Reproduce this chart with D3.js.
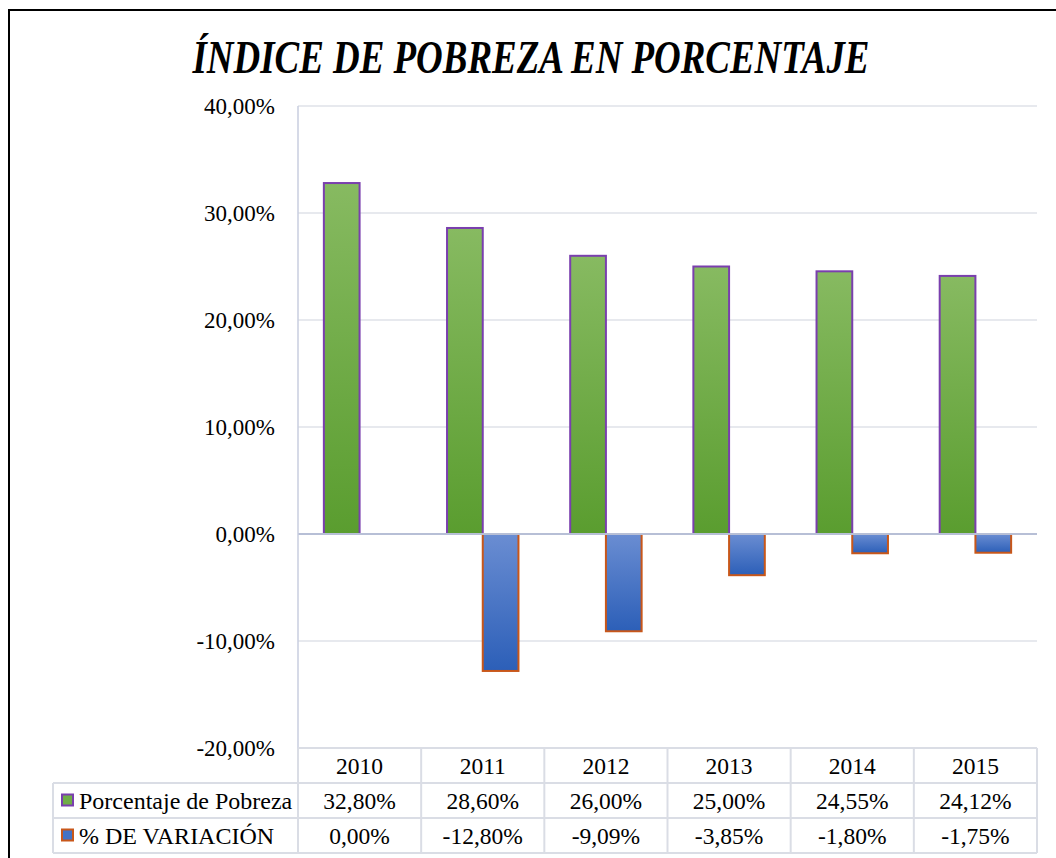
<!DOCTYPE html>
<html>
<head>
<meta charset="utf-8">
<script src="https://cdn.jsdelivr.net/npm/d3@7"></script>
<style>
  body { margin: 0; background: #fff; }
</style>
</head>
<body>
<div id="chart"></div>
<script>
// chart data
const years = ['2010', '2011', '2012', '2013', '2014', '2015'];
const pobreza = [32.80, 28.60, 26.00, 25.00, 24.55, 24.12];
const variacion = [0.00, -12.80, -9.09, -3.85, -1.80, -1.75];
const seriesNames = ['Porcentaje de Pobreza', '% DE VARIACIÓN'];
const yTicks = [-20, -10, 0, 10, 20, 30, 40];

const W = 1056;
const H = 858;
const plot = { left: 298, right: 1037, top: 106, bottom: 748 };
const rowH = 35;
const serif = '"Liberation Serif"';
const txtSize = 23.5;

const fmt = v => v.toFixed(2).replace('.', ',') + '%';

const svg = d3.select('#chart')
  .append('svg')
  .attr('width', W)
  .attr('height', H);

// gradients for the bars
const defs = svg.append('defs');
const grads = [
  { id: 'gGreen', top: '#87ba61', bottom: '#5a9d2f' },
  { id: 'gBlue', top: '#6a8dd2', bottom: '#2c5fb8' }
];
grads.forEach(g => {
  const lg = defs.append('linearGradient')
    .attr('id', g.id)
    .attr('x1', 0).attr('y1', 0).attr('x2', 0).attr('y2', 1);
  lg.append('stop').attr('offset', '0%').attr('stop-color', g.top);
  lg.append('stop').attr('offset', '100%').attr('stop-color', g.bottom);
});

// outer border of the chart (runs off the right and bottom)
svg.append('rect')
  .attr('x', 9).attr('y', 10)
  .attr('width', 1100).attr('height', 900)
  .attr('fill', 'none')
  .attr('stroke', '#000')
  .attr('stroke-width', 2);

// title
svg.append('text')
  .attr('x', 531)
  .attr('y', 73)
  .attr('text-anchor', 'middle')
  .style('font-family', serif)
  .attr('font-size', 46)
  .attr('font-weight', 'bold')
  .attr('font-style', 'italic')
  .attr('textLength', 677)
  .attr('lengthAdjust', 'spacingAndGlyphs')
  .text('ÍNDICE DE POBREZA EN PORCENTAJE');

// scales
const y = d3.scaleLinear()
  .domain([-20, 40])
  .range([plot.bottom, plot.top]);

const x = d3.scaleBand()
  .domain(years)
  .range([plot.left, plot.right])
  .paddingInner(0.42)
  .paddingOuter(0.21);

const col = d3.scaleBand()
  .domain(years)
  .range([plot.left, plot.right]);

const x1 = d3.scaleBand()
  .domain([0, 1])
  .range([0, x.bandwidth()]);

// gridlines
svg.append('g')
  .selectAll('line')
  .data(yTicks.filter(t => t !== 0))
  .join('line')
  .attr('x1', plot.left)
  .attr('x2', plot.right)
  .attr('y1', d => y(d))
  .attr('y2', d => y(d))
  .attr('stroke', '#dfe2e9')
  .attr('stroke-width', 1.5);

// y labels
const yAxis = svg.append('g')
  .attr('transform', `translate(${plot.left - 23},0)`)
  .call(d3.axisLeft(y).tickValues(yTicks).tickSize(0).tickPadding(0).tickFormat(fmt));
yAxis.select('.domain').remove();
yAxis.selectAll('text')
  .style('font-family', serif)
  .attr('font-size', 23)
  .attr('fill', '#000')
  .attr('dy', '0.33em');

// bars
const bars = svg.append('g');
bars.selectAll('.pob')
  .data(pobreza)
  .join('rect')
  .attr('class', 'pob')
  .attr('x', (d, i) => x(years[i]) + x1(0))
  .attr('y', d => y(Math.max(0, d)))
  .attr('width', x1.bandwidth())
  .attr('height', d => Math.abs(y(d) - y(0)))
  .attr('fill', 'url(#gGreen)')
  .attr('stroke', '#7a3fae')
  .attr('stroke-width', 2);

bars.selectAll('.var')
  .data(variacion)
  .join('rect')
  .attr('class', 'var')
  .attr('x', (d, i) => x(years[i]) + x1(1))
  .attr('y', d => y(Math.max(0, d)))
  .attr('width', x1.bandwidth())
  .attr('height', d => Math.abs(y(d) - y(0)))
  .attr('fill', 'url(#gBlue)')
  .attr('stroke', '#c8571a')
  .attr('stroke-width', 2)
  .attr('visibility', d => d === 0 ? 'hidden' : 'visible');

// zero line and vertical axis
svg.append('line')
  .attr('x1', plot.left).attr('x2', plot.right)
  .attr('y1', y(0)).attr('y2', y(0))
  .attr('stroke', '#b7bfd6')
  .attr('stroke-width', 2);
svg.append('line')
  .attr('x1', plot.left).attr('x2', plot.left)
  .attr('y1', plot.top).attr('y2', plot.bottom)
  .attr('stroke', '#c8cedf')
  .attr('stroke-width', 1.5);

// data table
const table = svg.append('g');
const tblLeft = 53;
const lineColor = '#dadde5';
const rowsTop = plot.bottom;

// horizontal lines
[0, 1, 2, 3].forEach(r => {
  table.append('line')
    .attr('x1', r === 0 ? plot.left : tblLeft)
    .attr('x2', plot.right)
    .attr('y1', rowsTop + r * rowH)
    .attr('y2', rowsTop + r * rowH)
    .attr('stroke', lineColor)
    .attr('stroke-width', 2);
});
table.append('line')
  .attr('x1', tblLeft).attr('x2', tblLeft)
  .attr('y1', rowsTop + rowH).attr('y2', rowsTop + 3 * rowH)
  .attr('stroke', lineColor).attr('stroke-width', 2);
table.selectAll('.vline')
  .data(years.concat(['end']))
  .join('line')
  .attr('class', 'vline')
  .attr('x1', (d, i) => plot.left + i * col.bandwidth())
  .attr('x2', (d, i) => plot.left + i * col.bandwidth())
  .attr('y1', rowsTop)
  .attr('y2', rowsTop + 3 * rowH)
  .attr('stroke', lineColor)
  .attr('stroke-width', 2);

// header row
table.selectAll('.yr')
  .data(years)
  .join('text')
  .attr('class', 'yr')
  .attr('x', d => col(d) + col.bandwidth() / 2)
  .attr('y', rowsTop + rowH / 2)
  .attr('dy', '0.35em')
  .attr('text-anchor', 'middle')
  .style('font-family', serif)
  .attr('font-size', txtSize)
  .text(d => d);

// value rows
[pobreza, variacion].forEach((vals, r) => {
  table.selectAll('.v' + r)
    .data(vals)
    .join('text')
    .attr('class', 'v' + r)
    .attr('x', (d, i) => col(years[i]) + col.bandwidth() / 2)
    .attr('y', rowsTop + (r + 1) * rowH + rowH / 2)
    .attr('dy', '0.35em')
    .attr('text-anchor', 'middle')
    .style('font-family', serif)
    .attr('font-size', txtSize)
    .text(d => fmt(d));
});

// legend keys in the table
const keyStyles = [
  { fill: '#70ad47', stroke: '#7a3fae' },
  { fill: '#4472c4', stroke: '#c8571a' }
];
seriesNames.forEach((name, r) => {
  const cy = rowsTop + (r + 1) * rowH + rowH / 2;
  table.append('rect')
    .attr('x', 62).attr('y', cy - 6)
    .attr('width', 11).attr('height', 11)
    .attr('fill', keyStyles[r].fill)
    .attr('stroke', keyStyles[r].stroke)
    .attr('stroke-width', 2);
  table.append('text')
    .attr('x', 79)
    .attr('y', cy)
    .attr('dy', '0.35em')
    .style('font-family', serif)
    .attr('font-size', 24)
    .text(name);
});
</script>
</body>
</html>
